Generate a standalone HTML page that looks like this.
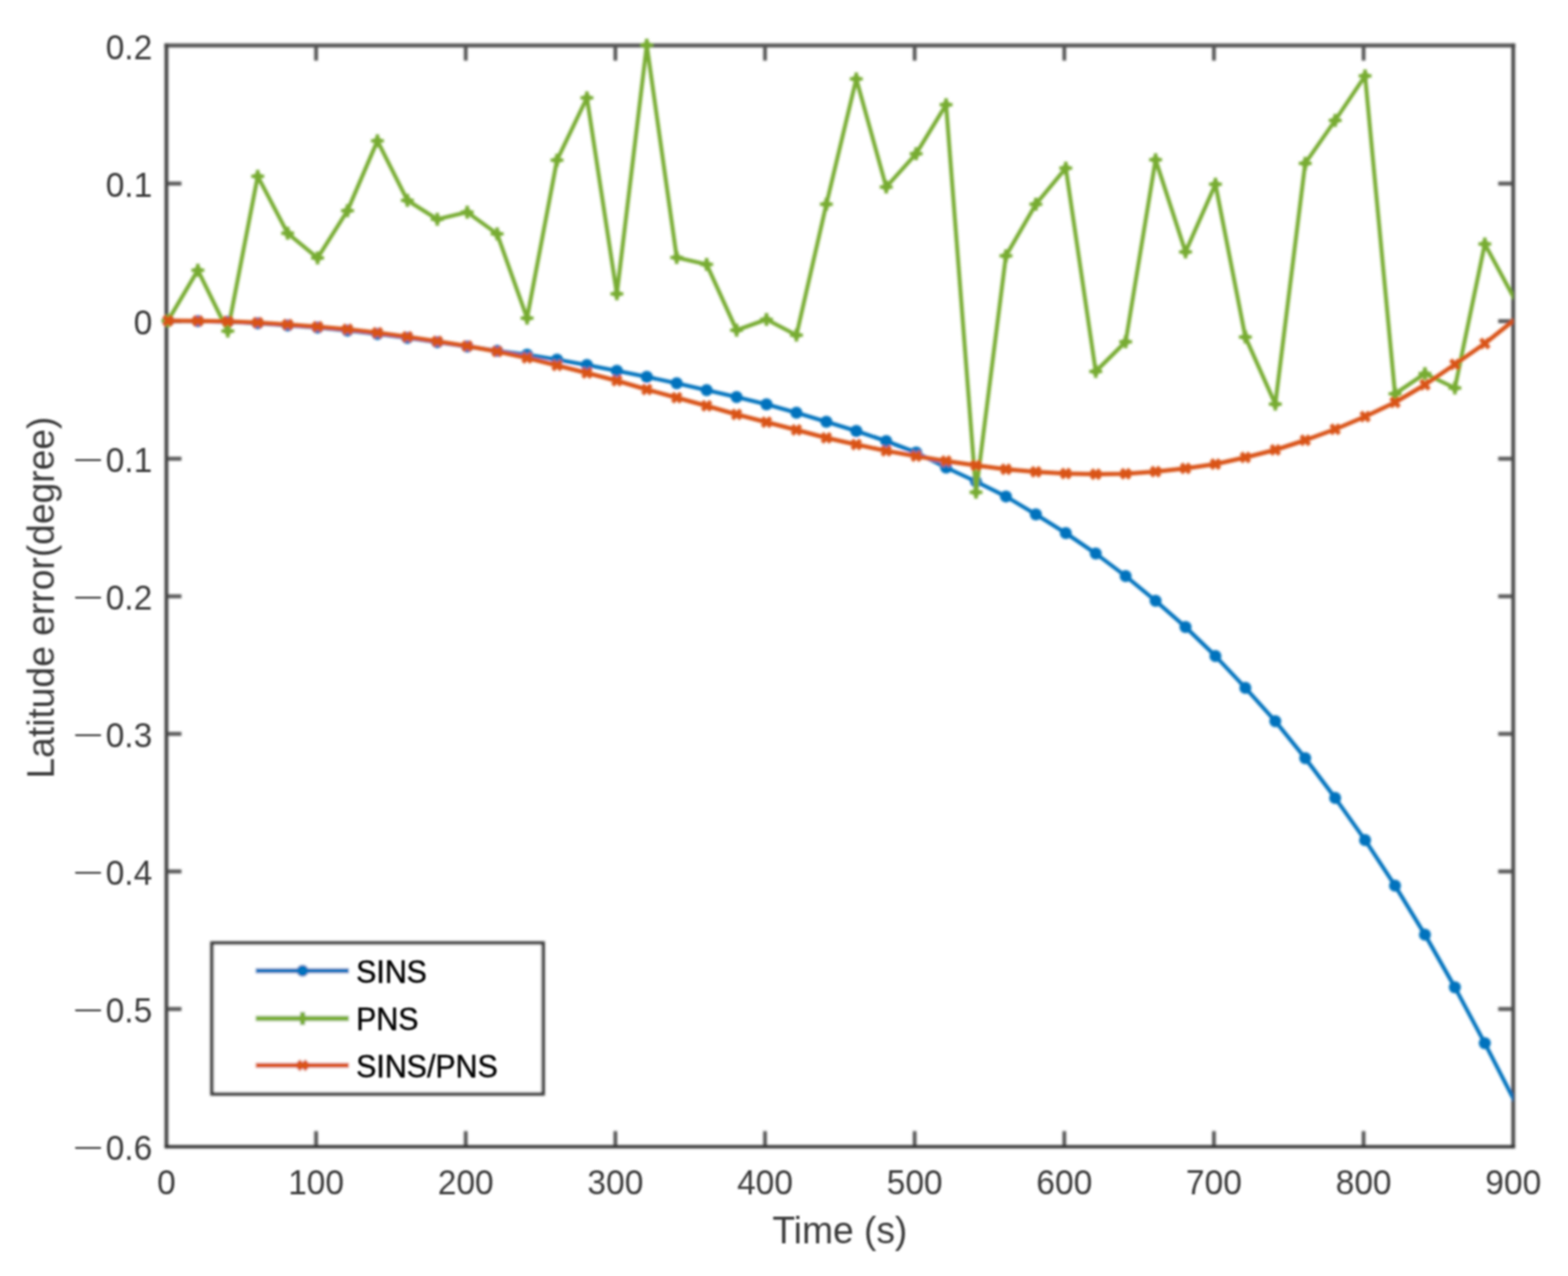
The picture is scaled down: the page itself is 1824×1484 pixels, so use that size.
<!DOCTYPE html>
<html lang="en">
<head>
<meta charset="utf-8">
<title>Latitude error</title>
<style>
html,body{margin:0;padding:0;background:#fff;}
body{width:1824px;height:1484px;overflow:hidden;}
svg{display:block;}
text{font-family:"Liberation Sans",sans-serif;}
</style>
</head>
<body>
<svg width="1824" height="1484" viewBox="0 0 1824 1484">
<defs>
<clipPath id="axclip"><rect x="193.60" y="43.00" width="1566.70" height="1290.00"/></clipPath>
<filter id="softL" x="-5%" y="-5%" width="110%" height="110%"><feGaussianBlur stdDeviation="1.40"/></filter>
<filter id="softT" x="-5%" y="-5%" width="110%" height="110%"><feGaussianBlur stdDeviation="0.90"/></filter>
</defs>
<rect x="0" y="0" width="1824" height="1484" fill="#ffffff"/>
<g filter="url(#softL)">
<g stroke="#565656" stroke-width="4.40" fill="none" stroke-linecap="butt">
<path d="M367.68 1333.00v-17.50M367.68 53.00v17.50"/>
<path d="M541.76 1333.00v-17.50M541.76 53.00v17.50"/>
<path d="M715.83 1333.00v-17.50M715.83 53.00v17.50"/>
<path d="M889.91 1333.00v-17.50M889.91 53.00v17.50"/>
<path d="M1063.99 1333.00v-17.50M1063.99 53.00v17.50"/>
<path d="M1238.07 1333.00v-17.50M1238.07 53.00v17.50"/>
<path d="M1412.14 1333.00v-17.50M1412.14 53.00v17.50"/>
<path d="M1586.22 1333.00v-17.50M1586.22 53.00v17.50"/>
<path d="M193.60 213.50h17.50M1760.30 213.50h-17.50"/>
<path d="M193.60 373.50h17.50M1760.30 373.50h-17.50"/>
<path d="M193.60 533.50h17.50M1760.30 533.50h-17.50"/>
<path d="M193.60 693.50h17.50M1760.30 693.50h-17.50"/>
<path d="M193.60 853.50h17.50M1760.30 853.50h-17.50"/>
<path d="M193.60 1013.50h17.50M1760.30 1013.50h-17.50"/>
<path d="M193.60 1173.50h17.50M1760.30 1173.50h-17.50"/>
</g>
<g id="axes-box" fill="none" stroke-linecap="square">
<path d="M193.60 52.90H1760.30" stroke="#555555" stroke-width="4.6"/>
<path d="M1760.30 53.00V1333.00" stroke="#4a4a4a" stroke-width="4.4"/>
<path d="M193.60 53.00V1333.00" stroke="#444444" stroke-width="4.4"/>
<path d="M193.60 1333.60H1760.30" stroke="#2e2e2e" stroke-width="3.8"/>
</g>
<g id="sins">
<g clip-path="url(#axclip)">
<polyline points="195.34,373.00 230.16,373.50 264.97,374.30 299.79,376.00 334.60,378.50 369.42,381.00 404.23,384.50 439.05,388.50 473.87,393.00 508.68,398.00 543.50,403.00 578.31,408.00 613.13,412.50 647.94,418.25 682.76,424.50 717.57,431.25 752.39,438.25 787.21,445.75 822.02,453.75 856.84,461.75 891.65,470.25 926.47,480.00 961.28,490.50 996.10,501.25 1030.91,513.00 1065.73,526.25 1100.55,543.75 1135.36,560.00 1170.18,577.40 1204.99,598.25 1239.81,620.00 1274.62,643.75 1309.44,670.00 1344.25,698.75 1379.07,729.25 1413.89,763.00 1448.70,800.00 1483.52,838.75 1518.33,881.75 1553.15,928.00 1587.96,977.00 1622.78,1030.00 1657.59,1087.00 1692.41,1148.25 1727.23,1213.25 1762.04,1280.80" fill="none" stroke="#0072BD" stroke-width="4.60" stroke-linejoin="round" stroke-linecap="butt"/>
</g>
<circle cx="195.34" cy="373.00" r="7.00" fill="#0072BD"/>
<circle cx="230.16" cy="373.50" r="7.00" fill="#0072BD"/>
<circle cx="264.97" cy="374.30" r="7.00" fill="#0072BD"/>
<circle cx="299.79" cy="376.00" r="7.00" fill="#0072BD"/>
<circle cx="334.60" cy="378.50" r="7.00" fill="#0072BD"/>
<circle cx="369.42" cy="381.00" r="7.00" fill="#0072BD"/>
<circle cx="404.23" cy="384.50" r="7.00" fill="#0072BD"/>
<circle cx="439.05" cy="388.50" r="7.00" fill="#0072BD"/>
<circle cx="473.87" cy="393.00" r="7.00" fill="#0072BD"/>
<circle cx="508.68" cy="398.00" r="7.00" fill="#0072BD"/>
<circle cx="543.50" cy="403.00" r="7.00" fill="#0072BD"/>
<circle cx="578.31" cy="408.00" r="7.00" fill="#0072BD"/>
<circle cx="613.13" cy="412.50" r="7.00" fill="#0072BD"/>
<circle cx="647.94" cy="418.25" r="7.00" fill="#0072BD"/>
<circle cx="682.76" cy="424.50" r="7.00" fill="#0072BD"/>
<circle cx="717.57" cy="431.25" r="7.00" fill="#0072BD"/>
<circle cx="752.39" cy="438.25" r="7.00" fill="#0072BD"/>
<circle cx="787.21" cy="445.75" r="7.00" fill="#0072BD"/>
<circle cx="822.02" cy="453.75" r="7.00" fill="#0072BD"/>
<circle cx="856.84" cy="461.75" r="7.00" fill="#0072BD"/>
<circle cx="891.65" cy="470.25" r="7.00" fill="#0072BD"/>
<circle cx="926.47" cy="480.00" r="7.00" fill="#0072BD"/>
<circle cx="961.28" cy="490.50" r="7.00" fill="#0072BD"/>
<circle cx="996.10" cy="501.25" r="7.00" fill="#0072BD"/>
<circle cx="1030.91" cy="513.00" r="7.00" fill="#0072BD"/>
<circle cx="1065.73" cy="526.25" r="7.00" fill="#0072BD"/>
<circle cx="1100.55" cy="543.75" r="7.00" fill="#0072BD"/>
<circle cx="1135.36" cy="560.00" r="7.00" fill="#0072BD"/>
<circle cx="1170.18" cy="577.40" r="7.00" fill="#0072BD"/>
<circle cx="1204.99" cy="598.25" r="7.00" fill="#0072BD"/>
<circle cx="1239.81" cy="620.00" r="7.00" fill="#0072BD"/>
<circle cx="1274.62" cy="643.75" r="7.00" fill="#0072BD"/>
<circle cx="1309.44" cy="670.00" r="7.00" fill="#0072BD"/>
<circle cx="1344.25" cy="698.75" r="7.00" fill="#0072BD"/>
<circle cx="1379.07" cy="729.25" r="7.00" fill="#0072BD"/>
<circle cx="1413.89" cy="763.00" r="7.00" fill="#0072BD"/>
<circle cx="1448.70" cy="800.00" r="7.00" fill="#0072BD"/>
<circle cx="1483.52" cy="838.75" r="7.00" fill="#0072BD"/>
<circle cx="1518.33" cy="881.75" r="7.00" fill="#0072BD"/>
<circle cx="1553.15" cy="928.00" r="7.00" fill="#0072BD"/>
<circle cx="1587.96" cy="977.00" r="7.00" fill="#0072BD"/>
<circle cx="1622.78" cy="1030.00" r="7.00" fill="#0072BD"/>
<circle cx="1657.59" cy="1087.00" r="7.00" fill="#0072BD"/>
<circle cx="1692.41" cy="1148.25" r="7.00" fill="#0072BD"/>
<circle cx="1727.23" cy="1213.25" r="7.00" fill="#0072BD"/>
</g>
<g id="pns">
<g clip-path="url(#axclip)">
<polyline points="195.34,373.00 230.16,314.25 264.97,385.00 299.79,205.00 334.60,271.25 369.42,300.00 404.23,245.00 439.05,163.75 473.87,233.00 508.68,255.00 543.50,246.75 578.31,272.00 613.13,370.00 647.94,186.25 682.76,113.75 717.57,341.75 752.39,52.50 787.21,299.50 822.02,307.50 856.84,384.00 891.65,371.50 926.47,389.75 961.28,237.50 996.10,91.75 1030.91,217.50 1065.73,178.75 1100.55,121.75 1135.36,572.50 1170.18,297.50 1204.99,237.50 1239.81,195.50 1274.62,432.00 1309.44,397.50 1344.25,185.75 1379.07,293.00 1413.89,214.25 1448.70,392.00 1483.52,470.00 1518.33,190.00 1553.15,140.00 1587.96,88.25 1622.78,458.00 1657.59,434.50 1692.41,451.25 1727.23,283.75 1762.04,348.10" fill="none" stroke="#77AC30" stroke-width="4.60" stroke-linejoin="round" stroke-linecap="butt"/>
</g>
<path d="M195.34 365.50V380.50M187.84 373.00H202.84M192.19 369.85L198.49 376.15M192.19 376.15L198.49 369.85" stroke="#77AC30" stroke-width="4.20" fill="none"/>
<path d="M230.16 306.75V321.75M222.66 314.25H237.66M227.01 311.10L233.31 317.40M227.01 317.40L233.31 311.10" stroke="#77AC30" stroke-width="4.20" fill="none"/>
<path d="M264.97 377.50V392.50M257.47 385.00H272.47M261.82 381.85L268.12 388.15M261.82 388.15L268.12 381.85" stroke="#77AC30" stroke-width="4.20" fill="none"/>
<path d="M299.79 197.50V212.50M292.29 205.00H307.29M296.64 201.85L302.94 208.15M296.64 208.15L302.94 201.85" stroke="#77AC30" stroke-width="4.20" fill="none"/>
<path d="M334.60 263.75V278.75M327.10 271.25H342.10M331.45 268.10L337.75 274.40M331.45 274.40L337.75 268.10" stroke="#77AC30" stroke-width="4.20" fill="none"/>
<path d="M369.42 292.50V307.50M361.92 300.00H376.92M366.27 296.85L372.57 303.15M366.27 303.15L372.57 296.85" stroke="#77AC30" stroke-width="4.20" fill="none"/>
<path d="M404.23 237.50V252.50M396.73 245.00H411.73M401.08 241.85L407.38 248.15M401.08 248.15L407.38 241.85" stroke="#77AC30" stroke-width="4.20" fill="none"/>
<path d="M439.05 156.25V171.25M431.55 163.75H446.55M435.90 160.60L442.20 166.90M435.90 166.90L442.20 160.60" stroke="#77AC30" stroke-width="4.20" fill="none"/>
<path d="M473.87 225.50V240.50M466.37 233.00H481.37M470.72 229.85L477.02 236.15M470.72 236.15L477.02 229.85" stroke="#77AC30" stroke-width="4.20" fill="none"/>
<path d="M508.68 247.50V262.50M501.18 255.00H516.18M505.53 251.85L511.83 258.15M505.53 258.15L511.83 251.85" stroke="#77AC30" stroke-width="4.20" fill="none"/>
<path d="M543.50 239.25V254.25M536.00 246.75H551.00M540.35 243.60L546.65 249.90M540.35 249.90L546.65 243.60" stroke="#77AC30" stroke-width="4.20" fill="none"/>
<path d="M578.31 264.50V279.50M570.81 272.00H585.81M575.16 268.85L581.46 275.15M575.16 275.15L581.46 268.85" stroke="#77AC30" stroke-width="4.20" fill="none"/>
<path d="M613.13 362.50V377.50M605.63 370.00H620.63M609.98 366.85L616.28 373.15M609.98 373.15L616.28 366.85" stroke="#77AC30" stroke-width="4.20" fill="none"/>
<path d="M647.94 178.75V193.75M640.44 186.25H655.44M644.79 183.10L651.09 189.40M644.79 189.40L651.09 183.10" stroke="#77AC30" stroke-width="4.20" fill="none"/>
<path d="M682.76 106.25V121.25M675.26 113.75H690.26M679.61 110.60L685.91 116.90M679.61 116.90L685.91 110.60" stroke="#77AC30" stroke-width="4.20" fill="none"/>
<path d="M717.57 334.25V349.25M710.07 341.75H725.07M714.42 338.60L720.72 344.90M714.42 344.90L720.72 338.60" stroke="#77AC30" stroke-width="4.20" fill="none"/>
<path d="M752.39 45.00V60.00M744.89 52.50H759.89M749.24 49.35L755.54 55.65M749.24 55.65L755.54 49.35" stroke="#77AC30" stroke-width="4.20" fill="none"/>
<path d="M787.21 292.00V307.00M779.71 299.50H794.71M784.06 296.35L790.36 302.65M784.06 302.65L790.36 296.35" stroke="#77AC30" stroke-width="4.20" fill="none"/>
<path d="M822.02 300.00V315.00M814.52 307.50H829.52M818.87 304.35L825.17 310.65M818.87 310.65L825.17 304.35" stroke="#77AC30" stroke-width="4.20" fill="none"/>
<path d="M856.84 376.50V391.50M849.34 384.00H864.34M853.69 380.85L859.99 387.15M853.69 387.15L859.99 380.85" stroke="#77AC30" stroke-width="4.20" fill="none"/>
<path d="M891.65 364.00V379.00M884.15 371.50H899.15M888.50 368.35L894.80 374.65M888.50 374.65L894.80 368.35" stroke="#77AC30" stroke-width="4.20" fill="none"/>
<path d="M926.47 382.25V397.25M918.97 389.75H933.97M923.32 386.60L929.62 392.90M923.32 392.90L929.62 386.60" stroke="#77AC30" stroke-width="4.20" fill="none"/>
<path d="M961.28 230.00V245.00M953.78 237.50H968.78M958.13 234.35L964.43 240.65M958.13 240.65L964.43 234.35" stroke="#77AC30" stroke-width="4.20" fill="none"/>
<path d="M996.10 84.25V99.25M988.60 91.75H1003.60M992.95 88.60L999.25 94.90M992.95 94.90L999.25 88.60" stroke="#77AC30" stroke-width="4.20" fill="none"/>
<path d="M1030.91 210.00V225.00M1023.41 217.50H1038.41M1027.76 214.35L1034.06 220.65M1027.76 220.65L1034.06 214.35" stroke="#77AC30" stroke-width="4.20" fill="none"/>
<path d="M1065.73 171.25V186.25M1058.23 178.75H1073.23M1062.58 175.60L1068.88 181.90M1062.58 181.90L1068.88 175.60" stroke="#77AC30" stroke-width="4.20" fill="none"/>
<path d="M1100.55 114.25V129.25M1093.05 121.75H1108.05M1097.40 118.60L1103.70 124.90M1097.40 124.90L1103.70 118.60" stroke="#77AC30" stroke-width="4.20" fill="none"/>
<path d="M1135.36 565.00V580.00M1127.86 572.50H1142.86M1132.21 569.35L1138.51 575.65M1132.21 575.65L1138.51 569.35" stroke="#77AC30" stroke-width="4.20" fill="none"/>
<path d="M1170.18 290.00V305.00M1162.68 297.50H1177.68M1167.03 294.35L1173.33 300.65M1167.03 300.65L1173.33 294.35" stroke="#77AC30" stroke-width="4.20" fill="none"/>
<path d="M1204.99 230.00V245.00M1197.49 237.50H1212.49M1201.84 234.35L1208.14 240.65M1201.84 240.65L1208.14 234.35" stroke="#77AC30" stroke-width="4.20" fill="none"/>
<path d="M1239.81 188.00V203.00M1232.31 195.50H1247.31M1236.66 192.35L1242.96 198.65M1236.66 198.65L1242.96 192.35" stroke="#77AC30" stroke-width="4.20" fill="none"/>
<path d="M1274.62 424.50V439.50M1267.12 432.00H1282.12M1271.47 428.85L1277.77 435.15M1271.47 435.15L1277.77 428.85" stroke="#77AC30" stroke-width="4.20" fill="none"/>
<path d="M1309.44 390.00V405.00M1301.94 397.50H1316.94M1306.29 394.35L1312.59 400.65M1306.29 400.65L1312.59 394.35" stroke="#77AC30" stroke-width="4.20" fill="none"/>
<path d="M1344.25 178.25V193.25M1336.75 185.75H1351.75M1341.10 182.60L1347.40 188.90M1341.10 188.90L1347.40 182.60" stroke="#77AC30" stroke-width="4.20" fill="none"/>
<path d="M1379.07 285.50V300.50M1371.57 293.00H1386.57M1375.92 289.85L1382.22 296.15M1375.92 296.15L1382.22 289.85" stroke="#77AC30" stroke-width="4.20" fill="none"/>
<path d="M1413.89 206.75V221.75M1406.39 214.25H1421.39M1410.74 211.10L1417.04 217.40M1410.74 217.40L1417.04 211.10" stroke="#77AC30" stroke-width="4.20" fill="none"/>
<path d="M1448.70 384.50V399.50M1441.20 392.00H1456.20M1445.55 388.85L1451.85 395.15M1445.55 395.15L1451.85 388.85" stroke="#77AC30" stroke-width="4.20" fill="none"/>
<path d="M1483.52 462.50V477.50M1476.02 470.00H1491.02M1480.37 466.85L1486.67 473.15M1480.37 473.15L1486.67 466.85" stroke="#77AC30" stroke-width="4.20" fill="none"/>
<path d="M1518.33 182.50V197.50M1510.83 190.00H1525.83M1515.18 186.85L1521.48 193.15M1515.18 193.15L1521.48 186.85" stroke="#77AC30" stroke-width="4.20" fill="none"/>
<path d="M1553.15 132.50V147.50M1545.65 140.00H1560.65M1550.00 136.85L1556.30 143.15M1550.00 143.15L1556.30 136.85" stroke="#77AC30" stroke-width="4.20" fill="none"/>
<path d="M1587.96 80.75V95.75M1580.46 88.25H1595.46M1584.81 85.10L1591.11 91.40M1584.81 91.40L1591.11 85.10" stroke="#77AC30" stroke-width="4.20" fill="none"/>
<path d="M1622.78 450.50V465.50M1615.28 458.00H1630.28M1619.63 454.85L1625.93 461.15M1619.63 461.15L1625.93 454.85" stroke="#77AC30" stroke-width="4.20" fill="none"/>
<path d="M1657.59 427.00V442.00M1650.09 434.50H1665.09M1654.44 431.35L1660.74 437.65M1654.44 437.65L1660.74 431.35" stroke="#77AC30" stroke-width="4.20" fill="none"/>
<path d="M1692.41 443.75V458.75M1684.91 451.25H1699.91M1689.26 448.10L1695.56 454.40M1689.26 454.40L1695.56 448.10" stroke="#77AC30" stroke-width="4.20" fill="none"/>
<path d="M1727.23 276.25V291.25M1719.73 283.75H1734.73M1724.08 280.60L1730.38 286.90M1724.08 286.90L1730.38 280.60" stroke="#77AC30" stroke-width="4.20" fill="none"/>
</g>
<g id="sinspns">
<g clip-path="url(#axclip)">
<polyline points="195.34,373.00 230.16,373.25 264.97,373.75 299.79,375.25 334.60,377.50 369.42,380.00 404.23,383.00 439.05,387.00 473.87,391.75 508.68,397.00 543.50,402.50 578.31,408.75 613.13,416.25 647.94,425.00 682.76,433.75 717.57,442.75 752.39,453.00 787.21,462.50 822.02,472.00 856.84,482.00 891.65,491.00 926.47,500.00 961.28,509.25 996.10,517.00 1030.91,524.40 1065.73,530.50 1100.55,536.25 1135.36,541.25 1170.18,545.75 1204.99,548.75 1239.81,550.75 1274.62,551.50 1309.44,551.00 1344.25,548.50 1379.07,544.75 1413.89,539.75 1448.70,532.00 1483.52,523.25 1518.33,512.00 1553.15,499.25 1587.96,484.50 1622.78,468.00 1657.59,447.50 1692.41,423.75 1727.23,399.50 1762.04,371.60" fill="none" stroke="#D95319" stroke-width="5.00" stroke-linejoin="round" stroke-linecap="butt"/>
</g>
<path d="M190.44 367.80L200.24 378.20M190.44 378.20L200.24 367.80" stroke="#D95319" stroke-width="5.00" fill="none"/>
<path d="M225.26 368.05L235.06 378.45M225.26 378.45L235.06 368.05" stroke="#D95319" stroke-width="5.00" fill="none"/>
<path d="M260.07 368.55L269.87 378.95M260.07 378.95L269.87 368.55" stroke="#D95319" stroke-width="5.00" fill="none"/>
<path d="M294.89 370.05L304.69 380.45M294.89 380.45L304.69 370.05" stroke="#D95319" stroke-width="5.00" fill="none"/>
<path d="M329.70 372.30L339.50 382.70M329.70 382.70L339.50 372.30" stroke="#D95319" stroke-width="5.00" fill="none"/>
<path d="M364.52 374.80L374.32 385.20M364.52 385.20L374.32 374.80" stroke="#D95319" stroke-width="5.00" fill="none"/>
<path d="M399.33 377.80L409.13 388.20M399.33 388.20L409.13 377.80" stroke="#D95319" stroke-width="5.00" fill="none"/>
<path d="M434.15 381.80L443.95 392.20M434.15 392.20L443.95 381.80" stroke="#D95319" stroke-width="5.00" fill="none"/>
<path d="M468.97 386.55L478.77 396.95M468.97 396.95L478.77 386.55" stroke="#D95319" stroke-width="5.00" fill="none"/>
<path d="M503.78 391.80L513.58 402.20M503.78 402.20L513.58 391.80" stroke="#D95319" stroke-width="5.00" fill="none"/>
<path d="M538.60 397.30L548.40 407.70M538.60 407.70L548.40 397.30" stroke="#D95319" stroke-width="5.00" fill="none"/>
<path d="M573.41 403.55L583.21 413.95M573.41 413.95L583.21 403.55" stroke="#D95319" stroke-width="5.00" fill="none"/>
<path d="M608.23 411.05L618.03 421.45M608.23 421.45L618.03 411.05" stroke="#D95319" stroke-width="5.00" fill="none"/>
<path d="M643.04 419.80L652.84 430.20M643.04 430.20L652.84 419.80" stroke="#D95319" stroke-width="5.00" fill="none"/>
<path d="M677.86 428.55L687.66 438.95M677.86 438.95L687.66 428.55" stroke="#D95319" stroke-width="5.00" fill="none"/>
<path d="M712.67 437.55L722.47 447.95M712.67 447.95L722.47 437.55" stroke="#D95319" stroke-width="5.00" fill="none"/>
<path d="M747.49 447.80L757.29 458.20M747.49 458.20L757.29 447.80" stroke="#D95319" stroke-width="5.00" fill="none"/>
<path d="M782.31 457.30L792.11 467.70M782.31 467.70L792.11 457.30" stroke="#D95319" stroke-width="5.00" fill="none"/>
<path d="M817.12 466.80L826.92 477.20M817.12 477.20L826.92 466.80" stroke="#D95319" stroke-width="5.00" fill="none"/>
<path d="M851.94 476.80L861.74 487.20M851.94 487.20L861.74 476.80" stroke="#D95319" stroke-width="5.00" fill="none"/>
<path d="M886.75 485.80L896.55 496.20M886.75 496.20L896.55 485.80" stroke="#D95319" stroke-width="5.00" fill="none"/>
<path d="M921.57 494.80L931.37 505.20M921.57 505.20L931.37 494.80" stroke="#D95319" stroke-width="5.00" fill="none"/>
<path d="M956.38 504.05L966.18 514.45M956.38 514.45L966.18 504.05" stroke="#D95319" stroke-width="5.00" fill="none"/>
<path d="M991.20 511.80L1001.00 522.20M991.20 522.20L1001.00 511.80" stroke="#D95319" stroke-width="5.00" fill="none"/>
<path d="M1026.01 519.20L1035.81 529.60M1026.01 529.60L1035.81 519.20" stroke="#D95319" stroke-width="5.00" fill="none"/>
<path d="M1060.83 525.30L1070.63 535.70M1060.83 535.70L1070.63 525.30" stroke="#D95319" stroke-width="5.00" fill="none"/>
<path d="M1095.65 531.05L1105.45 541.45M1095.65 541.45L1105.45 531.05" stroke="#D95319" stroke-width="5.00" fill="none"/>
<path d="M1130.46 536.05L1140.26 546.45M1130.46 546.45L1140.26 536.05" stroke="#D95319" stroke-width="5.00" fill="none"/>
<path d="M1165.28 540.55L1175.08 550.95M1165.28 550.95L1175.08 540.55" stroke="#D95319" stroke-width="5.00" fill="none"/>
<path d="M1200.09 543.55L1209.89 553.95M1200.09 553.95L1209.89 543.55" stroke="#D95319" stroke-width="5.00" fill="none"/>
<path d="M1234.91 545.55L1244.71 555.95M1234.91 555.95L1244.71 545.55" stroke="#D95319" stroke-width="5.00" fill="none"/>
<path d="M1269.72 546.30L1279.52 556.70M1269.72 556.70L1279.52 546.30" stroke="#D95319" stroke-width="5.00" fill="none"/>
<path d="M1304.54 545.80L1314.34 556.20M1304.54 556.20L1314.34 545.80" stroke="#D95319" stroke-width="5.00" fill="none"/>
<path d="M1339.35 543.30L1349.15 553.70M1339.35 553.70L1349.15 543.30" stroke="#D95319" stroke-width="5.00" fill="none"/>
<path d="M1374.17 539.55L1383.97 549.95M1374.17 549.95L1383.97 539.55" stroke="#D95319" stroke-width="5.00" fill="none"/>
<path d="M1408.99 534.55L1418.79 544.95M1408.99 544.95L1418.79 534.55" stroke="#D95319" stroke-width="5.00" fill="none"/>
<path d="M1443.80 526.80L1453.60 537.20M1443.80 537.20L1453.60 526.80" stroke="#D95319" stroke-width="5.00" fill="none"/>
<path d="M1478.62 518.05L1488.42 528.45M1478.62 528.45L1488.42 518.05" stroke="#D95319" stroke-width="5.00" fill="none"/>
<path d="M1513.43 506.80L1523.23 517.20M1513.43 517.20L1523.23 506.80" stroke="#D95319" stroke-width="5.00" fill="none"/>
<path d="M1548.25 494.05L1558.05 504.45M1548.25 504.45L1558.05 494.05" stroke="#D95319" stroke-width="5.00" fill="none"/>
<path d="M1583.06 479.30L1592.86 489.70M1583.06 489.70L1592.86 479.30" stroke="#D95319" stroke-width="5.00" fill="none"/>
<path d="M1617.88 462.80L1627.68 473.20M1617.88 473.20L1627.68 462.80" stroke="#D95319" stroke-width="5.00" fill="none"/>
<path d="M1652.69 442.30L1662.49 452.70M1652.69 452.70L1662.49 442.30" stroke="#D95319" stroke-width="5.00" fill="none"/>
<path d="M1687.51 418.55L1697.31 428.95M1687.51 428.95L1697.31 418.55" stroke="#D95319" stroke-width="5.00" fill="none"/>
<path d="M1722.33 394.30L1732.13 404.70M1722.33 404.70L1732.13 394.30" stroke="#D95319" stroke-width="5.00" fill="none"/>
</g>
<rect x="246.6" y="1096.8" width="385.2" height="175.4" fill="#ffffff" stroke="#3c3c3c" stroke-width="4.20"/>
<path d="M297.5 1129.00H405.8" stroke="#0072BD" stroke-width="5.80" fill="none"/>
<circle cx="352.00" cy="1129.00" r="7.00" fill="#0072BD"/>
<path d="M297.5 1184.50H405.8" stroke="#77AC30" stroke-width="5.80" fill="none"/>
<path d="M352.00 1177.00V1192.00M344.50 1184.50H359.50M348.85 1181.35L355.15 1187.65M348.85 1187.65L355.15 1181.35" stroke="#77AC30" stroke-width="4.20" fill="none"/>
<path d="M352 1176.90V1192.10" stroke="#77AC30" stroke-width="5.8" fill="none"/>
<path d="M297.5 1239.00H405.8" stroke="#D95319" stroke-width="5.80" fill="none"/>
<path d="M347.10 1233.80L356.90 1244.20M347.10 1244.20L356.90 1233.80" stroke="#D95319" stroke-width="5.00" fill="none"/>
</g>
<g filter="url(#softT)" fill="#3a3a3a">
<text transform="translate(193.60 1389.30) scale(1 1.040)" font-size="39px" text-anchor="middle">0</text>
<text transform="translate(367.68 1389.30) scale(1 1.040)" font-size="39px" text-anchor="middle">100</text>
<text transform="translate(541.76 1389.30) scale(1 1.040)" font-size="39px" text-anchor="middle">200</text>
<text transform="translate(715.83 1389.30) scale(1 1.040)" font-size="39px" text-anchor="middle">300</text>
<text transform="translate(889.91 1389.30) scale(1 1.040)" font-size="39px" text-anchor="middle">400</text>
<text transform="translate(1063.99 1389.30) scale(1 1.040)" font-size="39px" text-anchor="middle">500</text>
<text transform="translate(1238.07 1389.30) scale(1 1.040)" font-size="39px" text-anchor="middle">600</text>
<text transform="translate(1412.14 1389.30) scale(1 1.040)" font-size="39px" text-anchor="middle">700</text>
<text transform="translate(1586.22 1389.30) scale(1 1.040)" font-size="39px" text-anchor="middle">800</text>
<text transform="translate(1760.30 1389.30) scale(1 1.040)" font-size="39px" text-anchor="middle">900</text>
<g><text transform="translate(177.10 69.30) scale(1 1.040)" font-size="39px" text-anchor="end">0.2</text></g>
<g><text transform="translate(177.10 229.30) scale(1 1.040)" font-size="39px" text-anchor="end">0.1</text></g>
<g><text transform="translate(177.10 389.30) scale(1 1.040)" font-size="39px" text-anchor="end">0</text></g>
<g><text transform="translate(102.75 543.90) scale(1.580 0.680)" font-size="39px" text-anchor="middle" fill="#222222">−</text><text transform="translate(177.10 549.30) scale(1 1.040)" font-size="39px" text-anchor="end">0.1</text></g>
<g><text transform="translate(102.75 703.90) scale(1.580 0.680)" font-size="39px" text-anchor="middle" fill="#222222">−</text><text transform="translate(177.10 709.30) scale(1 1.040)" font-size="39px" text-anchor="end">0.2</text></g>
<g><text transform="translate(102.75 863.90) scale(1.580 0.680)" font-size="39px" text-anchor="middle" fill="#222222">−</text><text transform="translate(177.10 869.30) scale(1 1.040)" font-size="39px" text-anchor="end">0.3</text></g>
<g><text transform="translate(102.75 1023.90) scale(1.580 0.680)" font-size="39px" text-anchor="middle" fill="#222222">−</text><text transform="translate(177.10 1029.30) scale(1 1.040)" font-size="39px" text-anchor="end">0.4</text></g>
<g><text transform="translate(102.75 1183.90) scale(1.580 0.680)" font-size="39px" text-anchor="middle" fill="#222222">−</text><text transform="translate(177.10 1189.30) scale(1 1.040)" font-size="39px" text-anchor="end">0.5</text></g>
<g><text transform="translate(102.75 1343.90) scale(1.580 0.680)" font-size="39px" text-anchor="middle" fill="#222222">−</text><text transform="translate(177.10 1349.30) scale(1 1.040)" font-size="39px" text-anchor="end">0.6</text></g>
<text transform="translate(977.00 1445.60) scale(1 1.040)" font-size="43.3px" text-anchor="middle">Time (s)</text>
<text transform="translate(62.30 695.00) rotate(-90) scale(1 1.040)" font-size="43.3px" text-anchor="middle">Latitude error(degree)</text>
<text transform="translate(414.30 1142.60) scale(1 1.040)" font-size="35.3px" text-anchor="start" fill="#000000" stroke="#000000" stroke-width="0.5">SINS</text>
<text transform="translate(414.30 1198.10) scale(1 1.040)" font-size="35.3px" text-anchor="start" fill="#000000" stroke="#000000" stroke-width="0.5">PNS</text>
<text transform="translate(414.30 1252.60) scale(1 1.040)" font-size="35.3px" text-anchor="start" fill="#000000" stroke="#000000" stroke-width="0.5">SINS/PNS</text>
</g>
</svg>
</body>
</html>
